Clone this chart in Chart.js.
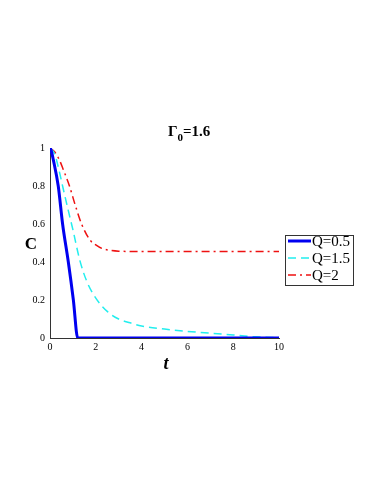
<!DOCTYPE html>
<html lang="en">
<head>
    <meta charset="UTF-8">
    <title>Gamma0 = 1.6</title>
    <script src="https://cdn.jsdelivr.net/npm/chart.js"></script>
    <style>
        body { margin: 0; background: #fff; }
        #wrap { width: 382px; height: 494px; }
    </style>
</head>
<body>
<div id="wrap">
    <canvas id="chart" width="382" height="494"></canvas>
</div>

<script>
    // values
    const tQ05 = [0, 0.05, 0.15, 0.36, 0.55, 0.8, 1.02, 1.21, 2, 4, 6, 8, 10];
    const cQ05 = [1, 0.987, 0.935, 0.8, 0.6, 0.4, 0.2, 0, 0, 0, 0, 0, 0];

    const tQ15 = [0, 0.2, 0.4, 0.55, 0.8, 1.0, 1.3, 1.6, 2.0, 2.5, 3.0, 3.5, 4.0, 5.0, 6.0, 7.0, 8.0, 9.0, 10];
    const cQ15 = [1, 0.97, 0.88, 0.8, 0.67, 0.57, 0.41, 0.3, 0.21, 0.14, 0.1, 0.08, 0.063, 0.047, 0.035, 0.025, 0.016, 0.006, 0.002];

    const tQ2 = [0, 0.2, 0.4, 0.6, 0.85, 1.1, 1.38, 1.75, 2.0, 2.26, 2.6, 3.0, 4, 6, 8, 10];
    const cQ2 = [1, 0.98, 0.94, 0.88, 0.8, 0.7, 0.6, 0.515, 0.49, 0.472, 0.462, 0.457, 0.455, 0.455, 0.455, 0.455];

    const seriesNames = ['Q=0.5', 'Q=1.5', 'Q=2'];
    const xTicks = [0, 2, 4, 6, 8, 10];
    const yTicks = [0, 0.2, 0.4, 0.6, 0.8, 1];

    const pts = (xs, ys) => xs.map((x, i) => ({ x: x, y: ys[i] }));

    const serif = '"Liberation Serif", "Times New Roman", serif';

    // title, axis labels and boxed legend
    const decorations = {
        id: 'decorations',
        afterDraw(chart) {
            const c = chart.ctx;
            c.save();
            c.fillStyle = '#000';

            // title: Gamma with subscript 0
            c.font = 'bold 15px ' + serif;
            c.textBaseline = 'alphabetic';
            c.textAlign = 'left';
            let x = 168;
            c.fillText('\u0393', x, 136);
            x += c.measureText('\u0393').width;
            c.font = 'bold 11px ' + serif;
            c.fillText('0', x, 141);
            x += c.measureText('0').width;
            c.font = 'bold 15px ' + serif;
            c.fillText('=1.6', x, 136);

            // y label
            c.font = 'bold 17px ' + serif;
            c.textAlign = 'center';
            c.textBaseline = 'middle';
            c.fillText('C', 31, 245);

            // x label
            c.font = 'italic bold 18px ' + serif;
            c.fillText('t', 166, 364);

            // legend
            const lx = 285, ly = 235, lw = 68, lh = 50;
            c.fillStyle = '#fff';
            c.fillRect(lx, ly, lw, lh);
            c.strokeStyle = '#333';
            c.lineWidth = 1;
            c.strokeRect(lx + 0.5, ly + 0.5, lw, lh);
            const rows = [241, 258, 275];
            chart.data.datasets.forEach((ds, i) => {
                c.strokeStyle = ds.borderColor;
                c.lineWidth = ds.borderWidth;
                c.setLineDash(ds.borderDash || []);
                c.beginPath();
                c.moveTo(lx + 3, rows[i]);
                c.lineTo(lx + 26, rows[i]);
                c.stroke();
                c.setLineDash([]);
                c.fillStyle = '#000';
                c.font = '15px ' + serif;
                c.textAlign = 'left';
                c.textBaseline = 'middle';
                c.fillText(ds.label, lx + 27, rows[i] + 1);
            });
            c.restore();
        }
    };

    new Chart(document.getElementById('chart'), {
        type: 'line',
        data: {
            datasets: [
                {
                    label: seriesNames[0],
                    data: pts(tQ05, cQ05),
                    borderColor: '#0000f0',
                    borderWidth: 3,
                    pointRadius: 0,
                    cubicInterpolationMode: 'monotone'
                },
                {
                    label: seriesNames[1],
                    data: pts(tQ15, cQ15),
                    borderColor: '#22eeee',
                    borderWidth: 1.5,
                    borderDash: [8, 5],
                    pointRadius: 0,
                    cubicInterpolationMode: 'monotone'
                },
                {
                    label: seriesNames[2],
                    data: pts(tQ2, cQ2),
                    borderColor: '#ee1111',
                    borderWidth: 1.5,
                    borderDash: [8, 4, 2, 4],
                    pointRadius: 0,
                    cubicInterpolationMode: 'monotone'
                }
            ]
        },
        options: {
            responsive: false,
            animation: false,
            layout: { padding: { left: 0, top: 148, right: 103, bottom: 136 } },
            plugins: {
                legend: { display: false },
                tooltip: { enabled: false }
            },
            scales: {
                x: {
                    type: 'linear',
                    min: 0,
                    max: 10,
                    afterFit: s => { s.height = 20; },
                    afterBuildTicks: s => { s.ticks = xTicks.map(v => ({ value: v })); },
                    grid: { display: false, drawTicks: false, tickLength: 0 },
                    border: { display: true, color: '#333', width: 1 },
                    ticks: { color: '#000', padding: 3, font: { family: serif, size: 10 },
                        callback: v => String(v) }
                },
                y: {
                    min: 0,
                    max: 1,
                    afterFit: s => { s.width = 50; },
                    afterBuildTicks: s => { s.ticks = yTicks.map(v => ({ value: v })); },
                    grid: { display: false, drawTicks: false, tickLength: 0 },
                    border: { display: true, color: '#333', width: 1 },
                    ticks: { color: '#000', padding: 5, font: { family: serif, size: 10 },
                        callback: v => String(Math.round(v * 10) / 10) }
                }
            }
        },
        plugins: [decorations]
    });
</script>
</body>
</html>
